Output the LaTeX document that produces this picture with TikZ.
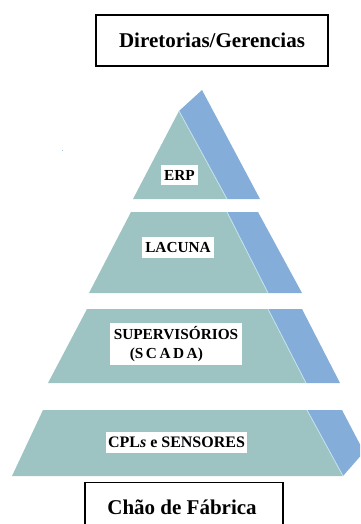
\documentclass[tikz,border=0pt]{standalone}
\usepackage{fontspec}
\setmainfont{Liberation Serif}
\definecolor{lvlgreen}{HTML}{9DC4C3}
\definecolor{lvlblue}{HTML}{84ADD9}
\definecolor{lvledge}{HTML}{C2E4EC}
\begin{document}
\begin{tikzpicture}[x=1pt,y=-1pt,
  titlebox/.style={draw=black,line width=1.4pt,fill=white,inner sep=0pt,
    font=\fontsize{21}{24}\bfseries\selectfont},
  lbl/.style={fill=white,inner xsep=3pt,inner ysep=5pt,text height=10.5pt,text depth=0pt,
    font=\fontsize{15.3}{20}\bfseries\selectfont},
  lblmulti/.style={fill=white,inner xsep=3pt,inner ysep=3pt,align=left,
    font=\fontsize{15.3}{20}\bfseries\selectfont},
  greenface/.style={fill=lvlgreen},
  blueface/.style={fill=lvlblue},
  seam/.style={draw=lvledge,line width=0.8pt}]
\useasboundingbox (0,0) rectangle (360,524);
\clip (0,0) rectangle (360,524);
% level 1: ERP
\fill[blueface] (179,111) -- (202,90) -- (260,199) -- (227,199) -- cycle;
\fill[greenface] (179,111) -- (227,199) -- (133,199) -- cycle;
\draw[seam] (179,111) -- (227,199);
% level 2: LACUNA
\fill[blueface] (227,212) -- (258,212) -- (302,293) -- (268,293) -- cycle;
\fill[greenface] (131,212) -- (227,212) -- (268,293) -- (89,293) -- cycle;
\draw[seam] (227,212) -- (268,293);
% level 3: SCADA
\fill[blueface] (268,309) -- (302,309) -- (340,383) -- (306,383) -- cycle;
\fill[greenface] (87,309) -- (268,309) -- (306,383) -- (48,383) -- cycle;
\draw[seam] (268,309) -- (306,383);
% level 4: CPLs
\fill[blueface] (307,410) -- (342,410) -- (364,452) -- (343,476) -- cycle;
\fill[greenface] (43,410) -- (307,410) -- (343,476) -- (12,476) -- cycle;
\draw[seam] (307,410) -- (343,476);
% tiny speck
\fill[lvlblue!70] (61.5,149.5) rectangle (63,151);
% title boxes
\node[titlebox,minimum width=232pt,minimum height=51pt] (top) at (212,40.5) {Diretorias/Gerencias};
\node[titlebox,minimum width=198pt,minimum height=70pt,anchor=north] (bottom) at (184,482) {};
\node[font=\fontsize{21}{24}\bfseries\selectfont] (bottomtext) at (182,507) {Chão de Fábrica};
% labels
\node[lbl] (erp) at (179.5,175) {ERP};
\node[lbl] (lacuna) at (178,247.5) {LACUNA};
\node[lblmulti,minimum width=132pt,minimum height=42pt] (scada) at (176,344) {SUPERVISÓRIOS\\[-1pt]\hspace*{16pt}(S\,C\,A\,D\,A)};
\node[lbl,inner xsep=2pt,font=\fontsize{16}{20}\bfseries\selectfont] (cpl) at (176.5,442.5) {CPL\textit{s} e SENSORES};
\end{tikzpicture}
\end{document}
